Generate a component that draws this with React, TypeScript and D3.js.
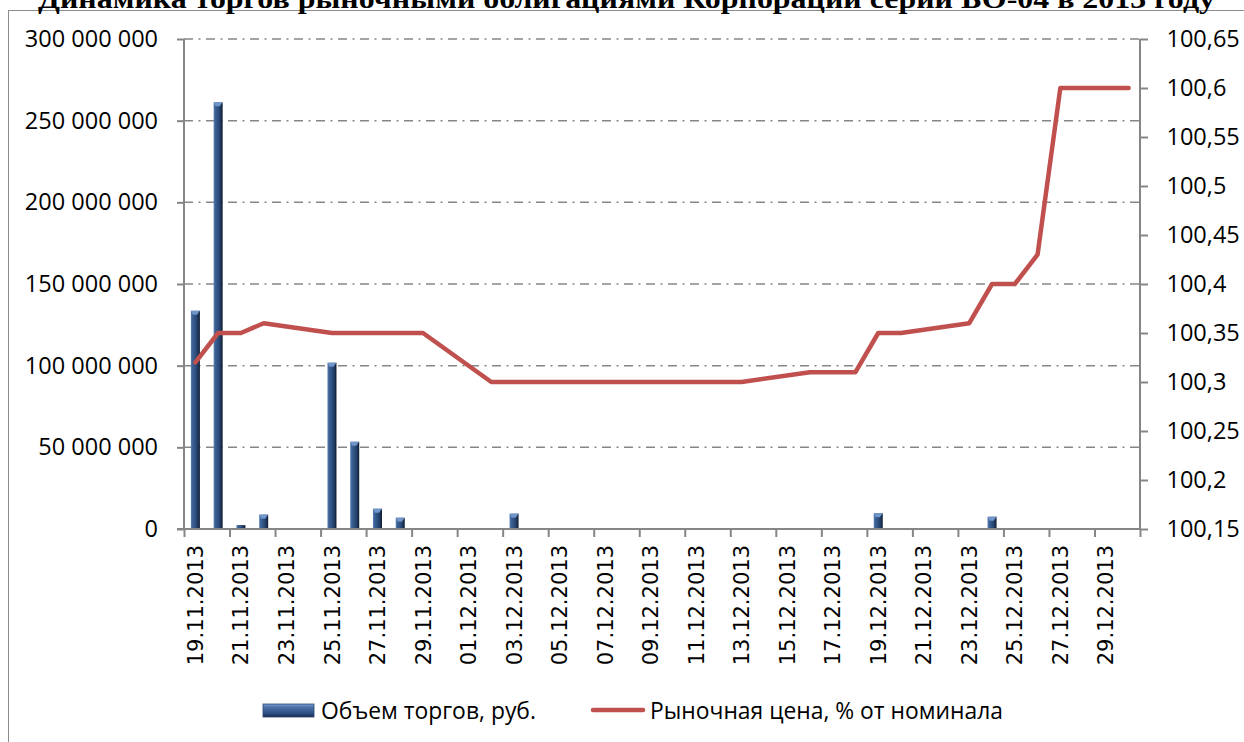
import { useEffect, useRef } from 'react';
import * as d3 from 'd3';

// Trading days (weekdays only), volume in rubles and market price, % of par
const tradeDates = [
  '19.11.2013', '20.11.2013', '21.11.2013', '22.11.2013', '25.11.2013', '26.11.2013',
  '27.11.2013', '28.11.2013', '29.11.2013', '02.12.2013', '03.12.2013', '04.12.2013',
  '05.12.2013', '06.12.2013', '09.12.2013', '10.12.2013', '11.12.2013', '12.12.2013',
  '13.12.2013', '16.12.2013', '17.12.2013', '18.12.2013', '19.12.2013', '20.12.2013',
  '23.12.2013', '24.12.2013', '25.12.2013', '26.12.2013', '27.12.2013', '30.12.2013',
];

const volume = [
  133600000, 261200000, 2400000, 8800000, 101800000, 53400000,
  12400000, 6900000, 0, 0, 9400000, 0,
  0, 0, 0, 0, 0, 0,
  0, 0, 0, 0, 9600000, 0,
  0, 7500000, 0, 0, 600000, 0,
];

const price = [
  100.32, 100.35, 100.35, 100.36, 100.35, 100.35,
  100.35, 100.35, 100.35, 100.30, 100.30, 100.30,
  100.30, 100.30, 100.30, 100.30, 100.30, 100.30,
  100.30, 100.31, 100.31, 100.31, 100.35, 100.35,
  100.36, 100.40, 100.40, 100.43, 100.60, 100.60,
];

const axisStart = '19.11.2013';
const axisEnd = '31.12.2013';
const volumeDomain = [0, 300000000];
const priceDomain = [100.15, 100.65];

const title = 'Динамика торгов рыночными облигациями Корпорации серии БО-04 в 2013 году';
const seriesNames = ['Объем торгов, руб.', 'Рыночная цена, % от номинала'];

const W = 1244;
const H = 742;

export default function App() {
  const svgRef = useRef<SVGSVGElement>(null);

  useEffect(() => {
    document.body.style.margin = '0';
    document.body.style.overflow = 'hidden';
    if (!svgRef.current) return;

    const svg = d3.select(svgRef.current);
    svg.selectAll('*').remove();

    const plot = { left: 184, right: 1140, top: 39, bottom: 529 };
    const parse = d3.utcParse('%d.%m.%Y');
    const start = parse(axisStart)!;
    const end = parse(axisEnd)!;

    const x = d3.scaleUtc().domain([start, end]).range([plot.left, plot.right]);
    const yL = d3.scaleLinear().domain(volumeDomain).range([plot.bottom, plot.top]);
    const yR = d3.scaleLinear().domain(priceDomain).range([plot.bottom, plot.top]);
    const dayCenter = (s: string) => x(d3.utcHour.offset(parse(s)!, 12));

    const axisColor = '#868686';
    const numFont = "'Open Sans', sans-serif";

    // gradients
    const defs = svg.append('defs');
    const bg = defs.append('linearGradient').attr('id', 'barGrad').attr('x1', 0).attr('x2', 1).attr('y1', 0).attr('y2', 0);
    [
      ['0%', '#5b80b4'], ['18%', '#3d6295'], ['55%', '#2c4c7b'], ['82%', '#1c3457'], ['100%', '#0c1629'],
    ].forEach(([o, c]) => bg.append('stop').attr('offset', o).attr('stop-color', c));
    const lg = defs.append('linearGradient').attr('id', 'legGrad').attr('x1', 0).attr('x2', 0).attr('y1', 0).attr('y2', 1);
    [
      ['0%', '#7a9dd0'], ['25%', '#4b72a8'], ['70%', '#2f5388'], ['100%', '#17294a'],
    ].forEach(([o, c]) => lg.append('stop').attr('offset', o).attr('stop-color', c));

    // outer chart border
    svg.append('rect')
      .attr('x', 8.5).attr('y', 10.5).attr('width', 1300).attr('height', 800)
      .attr('fill', 'none').attr('stroke', '#8c8c8c').attr('stroke-width', 1);

    // title (clipped at top)
    svg.append('text')
      .attr('x', 38).attr('y', 7.5)
      .attr('font-family', "'Liberation Serif', 'Times New Roman', serif")
      .attr('font-weight', 'bold').attr('font-size', 27)
      .attr('textLength', 1177).attr('lengthAdjust', 'spacingAndGlyphs')
      .text(title);

    // gridlines
    svg.append('g')
      .selectAll('line')
      .data(yL.ticks(6).filter((t) => t > 0))
      .join('line')
      .attr('x1', plot.left).attr('x2', plot.right)
      .attr('y1', (d) => yL(d)).attr('y2', (d) => yL(d))
      .attr('stroke', axisColor).attr('stroke-width', 1.5)
      .attr('stroke-dasharray', '9,5.5,2,5.5');

    // bars
    const barW = 9;
    const bars = tradeDates.map((d, i) => ({ d, v: volume[i] })).filter((b) => b.v > 0);
    const barG = svg.append('g');
    barG.selectAll('rect')
      .data(bars)
      .join('rect')
      .attr('x', (b) => dayCenter(b.d) - barW / 2)
      .attr('y', (b) => yL(b.v))
      .attr('width', barW)
      .attr('height', (b) => plot.bottom - yL(b.v))
      .attr('fill', 'url(#barGrad)');
    barG.selectAll('polygon')
      .data(bars.filter((b) => plot.bottom - yL(b.v) > 5))
      .join('polygon')
      .attr('points', (b) => {
        const cx = dayCenter(b.d);
        const y = yL(b.v);
        return `${cx - barW / 2},${y} ${cx + barW / 2},${y} ${cx + 1.5},${y + 4} ${cx - 2.5},${y + 4}`;
      })
      .attr('fill', '#6f95ca');

    // axes
    const fmtL = (v: d3.NumberValue) => d3.format(',')(v as number).replace(/,/g, ' ');
    const fmtR = (v: d3.NumberValue) => d3.format('.2~f')(v as number).replace('.', ',');

    const gL = svg.append('g')
      .attr('transform', `translate(${plot.left},0)`)
      .call(d3.axisLeft(yL).ticks(6).tickSize(7).tickPadding(19).tickFormat(fmtL));
    gL.selectAll('text').attr('font-family', numFont).attr('font-size', 23.5).attr('fill', '#000');

    const gR = svg.append('g')
      .attr('transform', `translate(${plot.right},0)`)
      .call(d3.axisRight(yR).ticks(10).tickSize(8).tickPadding(18.5).tickFormat(fmtR));
    gR.selectAll('text').attr('font-family', numFont).attr('font-size', 23.5).attr('fill', '#000');

    const boundaries = d3.utcDay.range(start, d3.utcDay.offset(end, 1), 2);
    const gB = svg.append('g')
      .attr('transform', `translate(0,${plot.bottom})`)
      .call(d3.axisBottom(x).tickValues(boundaries).tickSize(8).tickFormat(() => ''));

    // extend x-axis line a bit to the left like the original
    svg.append('line')
      .attr('x1', plot.left - 7).attr('x2', plot.left)
      .attr('y1', plot.bottom).attr('y2', plot.bottom)
      .attr('stroke', axisColor).attr('stroke-width', 2);

    [gL, gR, gB].forEach((g) => {
      g.selectAll('.domain').attr('stroke', axisColor).attr('stroke-width', 2);
      g.selectAll('.tick line').attr('stroke', axisColor).attr('stroke-width', 2);
    });
    gL.select('.domain').attr('d', `M0,${plot.top}V${plot.bottom}`);
    gR.select('.domain').attr('d', `M0,${plot.top}V${plot.bottom}`);
    gB.select('.domain').attr('d', `M${plot.left},0H${plot.right}`);

    // date labels
    const labelDates = d3.utcDay.range(start, end, 2);
    svg.append('g')
      .selectAll('text')
      .data(labelDates)
      .join('text')
      .attr('transform', (d) => `translate(${x(d3.utcHour.offset(d, 12))},545) rotate(-90)`)
      .attr('text-anchor', 'end')
      .attr('dy', '0.36em')
      .attr('font-family', "'DejaVu Sans', Verdana, sans-serif")
      .attr('font-size', 21)
      .text((d) => d3.utcFormat('%d.%m.%Y')(d));

    // price line
    const line = d3.line<number>()
      .x((_, i) => dayCenter(tradeDates[i]))
      .y((p) => yR(p));
    svg.append('path')
      .datum(price)
      .attr('d', line)
      .attr('fill', 'none')
      .attr('stroke', '#c0504d')
      .attr('stroke-width', 4.5)
      .attr('stroke-linejoin', 'round')
      .attr('stroke-linecap', 'round');

    // legend
    const leg = svg.append('g');
    leg.append('rect')
      .attr('x', 263).attr('y', 704).attr('width', 51).attr('height', 13)
      .attr('fill', 'url(#legGrad)').attr('stroke', '#2a4673').attr('stroke-width', 0.8);
    leg.append('text')
      .attr('x', 321).attr('y', 719)
      .attr('font-family', numFont).attr('font-size', 24)
      .attr('textLength', 215).attr('lengthAdjust', 'spacingAndGlyphs')
      .text(seriesNames[0]);
    leg.append('line')
      .attr('x1', 593).attr('x2', 643).attr('y1', 710).attr('y2', 710)
      .attr('stroke', '#c0504d').attr('stroke-width', 4.5).attr('stroke-linecap', 'round');
    leg.append('text')
      .attr('x', 650).attr('y', 719)
      .attr('font-family', numFont).attr('font-size', 24)
      .attr('textLength', 353).attr('lengthAdjust', 'spacingAndGlyphs')
      .text(seriesNames[1]);
  }, []);

  return (
    <svg
      ref={svgRef}
      width={W}
      height={H}
      style={{ position: 'absolute', left: 0, top: 0, background: '#fff' }}
    />
  );
}
